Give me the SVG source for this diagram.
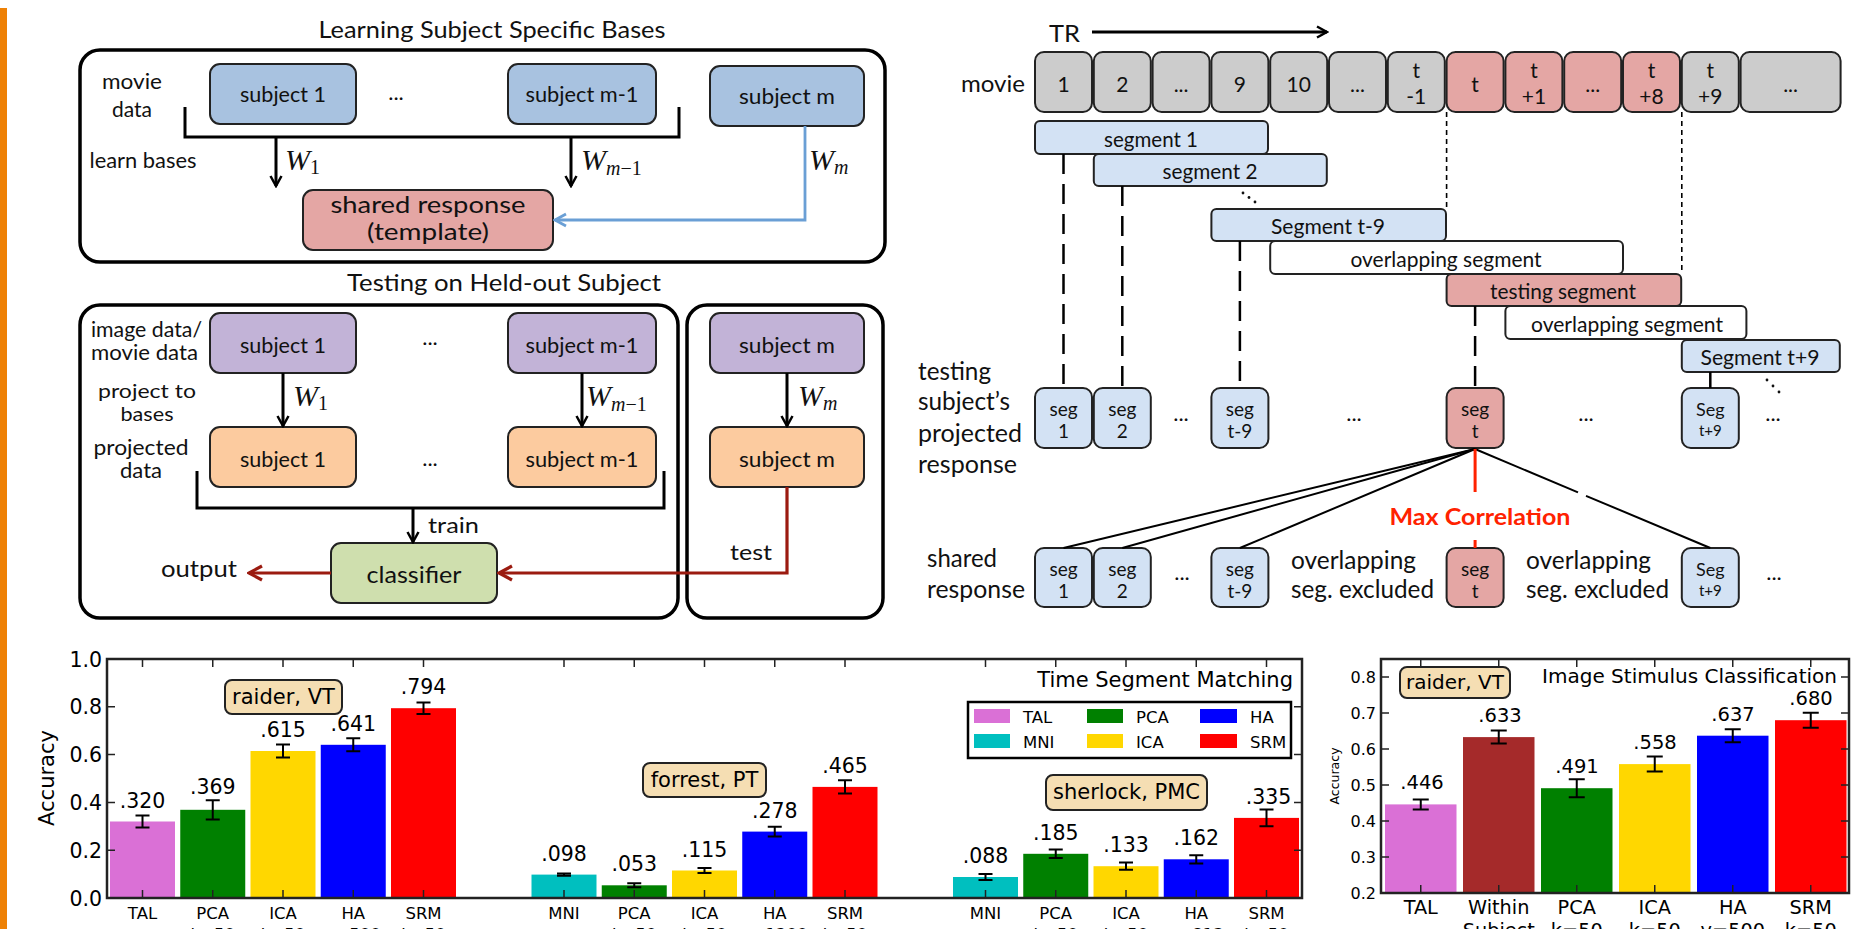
<svg xmlns="http://www.w3.org/2000/svg" width="1852" height="929" viewBox="0 0 1852 929">
<defs>
<style>
.lt{font-family:Lato,"Open Sans","Liberation Sans",sans-serif;fill:#111}
.dj{font-family:"DejaVu Sans","Liberation Sans",sans-serif;fill:#000}
.mt{font-family:"Liberation Serif","DejaVu Serif",serif;fill:#111}
.m{text-anchor:middle}
.e{text-anchor:end}
.frame{fill:#fff;stroke:#000;stroke-width:3.5}
.bx{stroke:#222;stroke-width:2}
.blue{fill:#a8c2e0}
.purp{fill:#c2b3d7}
.orng{fill:#fccb9f}
.grn{fill:#cfdfae}
.pink{fill:#e4a6a4}
.gray{fill:#cccccc}
.lb{fill:#d3e2f4}
.wht{fill:#fff}
.ln{stroke:#000;stroke-width:3;fill:none}
.ax{fill:none;stroke:#222;stroke-width:2.5}
.tk{stroke:#222;stroke-width:1.5}
.eb{stroke:#000;stroke-width:2;fill:none}
.badge{fill:#f5deb3;stroke:#222;stroke-width:2}
</style>
<marker id="ahk" viewBox="0 0 14 14" refX="12" refY="7" markerWidth="14" markerHeight="14" markerUnits="userSpaceOnUse" orient="auto"><path d="M2,1.5 L12,7 L2,12.5" fill="none" stroke="#000" stroke-width="2.5"/></marker>
<marker id="ahr" viewBox="0 0 18 18" refX="16" refY="9" markerWidth="18" markerHeight="18" markerUnits="userSpaceOnUse" orient="auto"><path d="M3,2 L16,9 L3,16" fill="none" stroke="#9b1b10" stroke-width="3.2"/></marker>
<marker id="ahb" viewBox="0 0 16 16" refX="14" refY="8" markerWidth="16" markerHeight="16" markerUnits="userSpaceOnUse" orient="auto"><path d="M3,2 L14,8 L3,14" fill="none" stroke="#6a9fd5" stroke-width="2.8"/></marker>
</defs>
<rect x="0" y="0" width="1852" height="929" fill="#fff"/>
<rect x="0" y="8" width="7" height="921" fill="#ee8105"/>

<!-- ===== Learning panel ===== -->
<g id="learning-panel">
<text class="lt m" x="492" y="38" font-size="24" textLength="347" lengthAdjust="spacingAndGlyphs">Learning Subject Specific Bases</text>
<rect class="frame" x="80" y="50" width="805" height="212" rx="20"/>
<text class="lt m" x="132" y="89" font-size="21" textLength="60" lengthAdjust="spacingAndGlyphs">movie</text>
<text class="lt m" x="132" y="117" font-size="21" textLength="40" lengthAdjust="spacingAndGlyphs">data</text>
<text class="lt m" x="143" y="168" font-size="21" textLength="107" lengthAdjust="spacingAndGlyphs">learn bases</text>
<text class="lt m" x="396" y="100" font-size="22">...</text>
</g>
<g id="learn-subject-1"><rect class="bx blue" x="210" y="64" width="146" height="60" rx="10"/><text class="lt m" x="283" y="102" font-size="21" textLength="86" lengthAdjust="spacingAndGlyphs">subject 1</text></g>
<g id="learn-subject-m-1"><rect class="bx blue" x="508" y="64" width="148" height="60" rx="10"/><text class="lt m" x="582" y="102" font-size="21" textLength="113" lengthAdjust="spacingAndGlyphs">subject m-1</text></g>
<g id="learn-subject-m"><rect class="bx blue" x="710" y="66" width="154" height="60" rx="10"/><text class="lt m" x="787" y="104" font-size="21" textLength="96" lengthAdjust="spacingAndGlyphs">subject m</text></g>
<g id="shared-response"><rect class="bx pink" x="303" y="190" width="250" height="60" rx="10"/><text class="lt m" x="428" y="213" font-size="24" textLength="195" lengthAdjust="spacingAndGlyphs">shared response</text><text class="lt m" x="428" y="240" font-size="24" textLength="122" lengthAdjust="spacingAndGlyphs">(template)</text></g>

<!-- ===== Testing panel ===== -->
<g id="testing-panel">
<text class="lt m" x="504" y="291" font-size="24" textLength="314" lengthAdjust="spacingAndGlyphs">Testing on Held-out Subject</text>
<rect class="frame" x="80" y="305" width="598" height="313" rx="20"/>
<rect class="frame" x="687" y="305" width="196" height="313" rx="20"/>
<text class="lt" x="91" y="337" font-size="21" textLength="111" lengthAdjust="spacingAndGlyphs">image data/</text>
<text class="lt" x="91" y="360" font-size="21" textLength="107" lengthAdjust="spacingAndGlyphs">movie data</text>
<text class="lt m" x="147" y="398" font-size="20" textLength="98" lengthAdjust="spacingAndGlyphs">project to</text>
<text class="lt m" x="147" y="421" font-size="20" textLength="53" lengthAdjust="spacingAndGlyphs">bases</text>
<text class="lt m" x="141" y="455" font-size="21" textLength="95" lengthAdjust="spacingAndGlyphs">projected</text>
<text class="lt m" x="141" y="478" font-size="21" textLength="42" lengthAdjust="spacingAndGlyphs">data</text>
<text class="lt m" x="430" y="345" font-size="22">...</text>
<text class="lt m" x="430" y="466" font-size="22">...</text>
<text class="lt" x="428" y="533" font-size="22" textLength="51" lengthAdjust="spacingAndGlyphs">train</text>
<text class="lt e" x="237" y="577" font-size="23" textLength="76" lengthAdjust="spacingAndGlyphs">output</text>
<text class="lt m" x="751" y="560" font-size="22" textLength="42" lengthAdjust="spacingAndGlyphs">test</text>
</g>
<g id="test-img-subject-1"><rect class="bx purp" x="210" y="313" width="146" height="60" rx="10"/><text class="lt m" x="283" y="353" font-size="21" textLength="86" lengthAdjust="spacingAndGlyphs">subject 1</text></g>
<g id="test-img-subject-m-1"><rect class="bx purp" x="508" y="313" width="148" height="60" rx="10"/><text class="lt m" x="582" y="353" font-size="21" textLength="113" lengthAdjust="spacingAndGlyphs">subject m-1</text></g>
<g id="test-img-subject-m"><rect class="bx purp" x="710" y="313" width="154" height="60" rx="10"/><text class="lt m" x="787" y="353" font-size="21" textLength="96" lengthAdjust="spacingAndGlyphs">subject m</text></g>
<g id="test-proj-subject-1"><rect class="bx orng" x="210" y="427" width="146" height="60" rx="10"/><text class="lt m" x="283" y="467" font-size="21" textLength="86" lengthAdjust="spacingAndGlyphs">subject 1</text></g>
<g id="test-proj-subject-m-1"><rect class="bx orng" x="508" y="427" width="148" height="60" rx="10"/><text class="lt m" x="582" y="467" font-size="21" textLength="113" lengthAdjust="spacingAndGlyphs">subject m-1</text></g>
<g id="test-proj-subject-m"><rect class="bx orng" x="710" y="427" width="154" height="60" rx="10"/><text class="lt m" x="787" y="467" font-size="21" textLength="96" lengthAdjust="spacingAndGlyphs">subject m</text></g>
<g id="classifier"><rect class="bx grn" x="331" y="543" width="166" height="60" rx="10"/><text class="lt m" x="414" y="583" font-size="24" textLength="95" lengthAdjust="spacingAndGlyphs">classifier</text></g>

<!-- ===== Time segment scheme ===== -->
<g id="movie-row">
<text class="lt" x="1049" y="42" font-size="24" textLength="31" lengthAdjust="spacingAndGlyphs">TR</text>
<text class="lt" x="961" y="92" font-size="24" textLength="64" lengthAdjust="spacingAndGlyphs">movie</text>
<rect class="bx gray" x="1035" y="52" width="57" height="60" rx="9"/>
<rect class="bx gray" x="1093.8" y="52" width="57" height="60" rx="9"/>
<rect class="bx gray" x="1152.6" y="52" width="57" height="60" rx="9"/>
<rect class="bx gray" x="1211.4" y="52" width="57" height="60" rx="9"/>
<rect class="bx gray" x="1270.2" y="52" width="57" height="60" rx="9"/>
<rect class="bx gray" x="1329" y="52" width="57" height="60" rx="9"/>
<rect class="bx gray" x="1387.8" y="52" width="57" height="60" rx="9"/>
<rect class="bx pink" x="1446.6" y="52" width="57" height="60" rx="9"/>
<rect class="bx pink" x="1505.4" y="52" width="57" height="60" rx="9"/>
<rect class="bx pink" x="1564.2" y="52" width="57" height="60" rx="9"/>
<rect class="bx pink" x="1623" y="52" width="57" height="60" rx="9"/>
<rect class="bx gray" x="1681.8" y="52" width="57" height="60" rx="9"/>
<rect class="bx gray" x="1740.6" y="52" width="100" height="60" rx="9"/>
<g class="lt m" font-size="21">
<text x="1063.5" y="92">1</text>
<text x="1122.3" y="92">2</text>
<text x="1181.1" y="92">...</text>
<text x="1239.9" y="92">9</text>
<text x="1298.7" y="92">10</text>
<text x="1357.5" y="92">...</text>
<text x="1416.3" y="78">t</text><text x="1416.3" y="104">-1</text>
<text x="1475.1" y="92">t</text>
<text x="1533.9" y="78">t</text><text x="1533.9" y="104">+1</text>
<text x="1592.7" y="92">...</text>
<text x="1651.5" y="78">t</text><text x="1651.5" y="104">+8</text>
<text x="1710.3" y="78">t</text><text x="1710.3" y="104">+9</text>
<text x="1790.6" y="92">...</text>
</g>
</g>
<g id="segment-1"><rect class="bx lb" x="1035" y="121" width="233" height="33" rx="5"/><text class="lt m" x="1151" y="147" font-size="21" textLength="94" lengthAdjust="spacingAndGlyphs">segment 1</text></g>
<g id="segment-2"><rect class="bx lb" x="1093.8" y="154" width="233" height="32" rx="5"/><text class="lt m" x="1210" y="179" font-size="21" textLength="95" lengthAdjust="spacingAndGlyphs">segment 2</text></g>
<g id="segment-t-9"><rect class="bx lb" x="1211.4" y="209" width="234.6" height="32" rx="5"/><text class="lt m" x="1328" y="234" font-size="21" textLength="114" lengthAdjust="spacingAndGlyphs">Segment t-9</text></g>
<g id="overlap-1"><rect class="bx wht" x="1270.2" y="241" width="352.8" height="33" rx="5"/><text class="lt m" x="1446" y="267" font-size="21" textLength="191" lengthAdjust="spacingAndGlyphs">overlapping segment</text></g>
<g id="testing-segment"><rect class="bx pink" x="1446.6" y="274" width="234.6" height="32" rx="5"/><text class="lt m" x="1563" y="299" font-size="21" textLength="146" lengthAdjust="spacingAndGlyphs">testing segment</text></g>
<g id="overlap-2"><rect class="bx wht" x="1505.4" y="306" width="241" height="33" rx="5"/><text class="lt m" x="1627" y="332" font-size="21" textLength="192" lengthAdjust="spacingAndGlyphs">overlapping segment</text></g>
<g id="segment-t+9"><rect class="bx lb" x="1681.8" y="340" width="158" height="32" rx="5"/><text class="lt m" x="1760" y="365" font-size="21" textLength="119" lengthAdjust="spacingAndGlyphs">Segment t+9</text></g>
<g id="ddots" fill="#111">
<circle cx="1243" cy="193" r="1.4"/><circle cx="1249" cy="197.5" r="1.4"/><circle cx="1255" cy="202" r="1.4"/>
<circle cx="1767" cy="380" r="1.4"/><circle cx="1773" cy="386" r="1.4"/><circle cx="1779" cy="392" r="1.4"/>
</g>
<g id="labels-right">
<text class="lt" x="918" y="380" font-size="25" textLength="73" lengthAdjust="spacingAndGlyphs">testing</text>
<text class="lt" x="918" y="410" font-size="25" textLength="92" lengthAdjust="spacingAndGlyphs">subject’s</text>
<text class="lt" x="918" y="442" font-size="25" textLength="104" lengthAdjust="spacingAndGlyphs">projected</text>
<text class="lt" x="918" y="473" font-size="25" textLength="99" lengthAdjust="spacingAndGlyphs">response</text>
<text class="lt" x="927" y="567" font-size="25" textLength="70" lengthAdjust="spacingAndGlyphs">shared</text>
<text class="lt" x="927" y="598" font-size="25" textLength="98" lengthAdjust="spacingAndGlyphs">response</text>
<text class="lt" x="1291" y="569" font-size="25" textLength="125" lengthAdjust="spacingAndGlyphs">overlapping</text>
<text class="lt" x="1291" y="598" font-size="25" textLength="143" lengthAdjust="spacingAndGlyphs">seg. excluded</text>
<text class="lt" x="1526" y="569" font-size="25" textLength="125" lengthAdjust="spacingAndGlyphs">overlapping</text>
<text class="lt" x="1526" y="598" font-size="25" textLength="143" lengthAdjust="spacingAndGlyphs">seg. excluded</text>
<text class="lt m" x="1480" y="525" font-size="23" font-weight="bold" fill="#ff2200" style="fill:#ff2200" textLength="181" lengthAdjust="spacingAndGlyphs">Max Correlation</text>
<g class="lt m" font-size="22">
<text x="1181" y="421">...</text><text x="1354" y="421">...</text><text x="1586" y="421">...</text><text x="1773" y="421">...</text>
<text x="1182" y="580">...</text><text x="1774" y="580">...</text>
</g>
</g>
<g id="proj-seg-1"><rect class="bx lb" x="1035" y="388" width="57" height="60" rx="9"/><text class="lt m" x="1063.5" y="416" font-size="19">seg</text><text class="lt m" x="1063.5" y="438" font-size="19">1</text></g>
<g id="proj-seg-2"><rect class="bx lb" x="1093.8" y="388" width="57" height="60" rx="9"/><text class="lt m" x="1122.3" y="416" font-size="19">seg</text><text class="lt m" x="1122.3" y="438" font-size="19">2</text></g>
<g id="proj-seg-t-9"><rect class="bx lb" x="1211.4" y="388" width="57" height="60" rx="9"/><text class="lt m" x="1239.9" y="416" font-size="19">seg</text><text class="lt m" x="1239.9" y="438" font-size="19">t-9</text></g>
<g id="proj-seg-t"><rect class="bx pink" x="1446.6" y="388" width="57" height="60" rx="9"/><text class="lt m" x="1475.1" y="416" font-size="19">seg</text><text class="lt m" x="1475.1" y="438" font-size="19">t</text></g>
<g id="proj-seg-t+9"><rect class="bx lb" x="1681.8" y="388" width="57" height="60" rx="9"/><text class="lt m" x="1710.3" y="416" font-size="18">Seg</text><text class="lt m" x="1710.3" y="436" font-size="15">t+9</text></g>
<g id="shared-seg-1"><rect class="bx lb" x="1035" y="548" width="57" height="59" rx="9"/><text class="lt m" x="1063.5" y="576" font-size="19">seg</text><text class="lt m" x="1063.5" y="598" font-size="19">1</text></g>
<g id="shared-seg-2"><rect class="bx lb" x="1093.8" y="548" width="57" height="59" rx="9"/><text class="lt m" x="1122.3" y="576" font-size="19">seg</text><text class="lt m" x="1122.3" y="598" font-size="19">2</text></g>
<g id="shared-seg-t-9"><rect class="bx lb" x="1211.4" y="548" width="57" height="59" rx="9"/><text class="lt m" x="1239.9" y="576" font-size="19">seg</text><text class="lt m" x="1239.9" y="598" font-size="19">t-9</text></g>
<g id="shared-seg-t"><rect class="bx pink" x="1446.6" y="548" width="57" height="59" rx="9"/><text class="lt m" x="1475.1" y="576" font-size="19">seg</text><text class="lt m" x="1475.1" y="598" font-size="19">t</text></g>
<g id="shared-seg-t+9"><rect class="bx lb" x="1681.8" y="548" width="57" height="59" rx="9"/><text class="lt m" x="1710.3" y="576" font-size="18">Seg</text><text class="lt m" x="1710.3" y="596" font-size="15">t+9</text></g>

<!-- ===== connectors ===== -->
<g id="connectors">
<path class="ln" d="M185,107 V137 H679 V107"/>
<path class="ln" d="M276,137 V186" marker-end="url(#ahk)"/>
<path class="ln" d="M571,137 V186" marker-end="url(#ahk)"/>
<path d="M805,126 V220 H555" fill="none" stroke="#6a9fd5" stroke-width="2.8" marker-end="url(#ahb)"/>
<path class="ln" d="M283,373 V426" marker-end="url(#ahk)"/>
<path class="ln" d="M582,373 V426" marker-end="url(#ahk)"/>
<path class="ln" d="M787,373 V426" marker-end="url(#ahk)"/>
<path class="ln" d="M197,471 V508 H664 V471"/>
<path class="ln" d="M413,508 V542" marker-end="url(#ahk)"/>
<path d="M331,573 H249" fill="none" stroke="#9b1b10" stroke-width="3.2" marker-end="url(#ahr)"/>
<path d="M787,487 V573 H499" fill="none" stroke="#9b1b10" stroke-width="3.2" marker-end="url(#ahr)"/>
<path d="M1092,32 H1327" fill="none" stroke="#000" stroke-width="3" marker-end="url(#ahk)"/>
<g stroke="#000" stroke-width="1.6" stroke-dasharray="5 4" fill="none">
<path d="M1446.6,112 V209"/><path d="M1681.8,112 V274"/>
</g>
<g stroke="#000" stroke-width="2.5" stroke-dasharray="20 10" fill="none">
<path d="M1063.5,154 V388"/><path d="M1122.3,186 V388"/><path d="M1239.9,241 V388"/><path d="M1475.1,306 V388"/>
</g>
<path d="M1710.3,372 V388" stroke="#000" stroke-width="2.5"/>
<g stroke="#000" stroke-width="2" fill="none">
<path d="M1475,449 L1063.5,548"/><path d="M1475,449 L1122.3,548"/><path d="M1475,449 L1239.9,548"/>
<path d="M1475,449 L1578,492.4"/><path d="M1586,495.8 L1710.3,548"/>
</g>
<path d="M1475.1,449 V492 M1475.1,540 V548" stroke="#ff2200" stroke-width="3"/>
</g>

<!-- math labels -->
<g id="math-labels" class="mt" font-size="30">
<text x="285" y="170"><tspan font-style="italic">W</tspan><tspan font-size="20" dy="4">1</tspan></text>
<text x="581" y="170"><tspan font-style="italic">W</tspan><tspan font-size="20" dy="5" font-style="italic">m</tspan><tspan font-size="20">−1</tspan></text>
<text x="809" y="170"><tspan font-style="italic">W</tspan><tspan font-size="20" dy="4" font-style="italic">m</tspan></text>
<text x="293" y="406"><tspan font-style="italic">W</tspan><tspan font-size="20" dy="4">1</tspan></text>
<text x="586" y="406"><tspan font-style="italic">W</tspan><tspan font-size="20" dy="5" font-style="italic">m</tspan><tspan font-size="20">−1</tspan></text>
<text x="798" y="406"><tspan font-style="italic">W</tspan><tspan font-size="20" dy="4" font-style="italic">m</tspan></text>
</g>

<!-- ===== Chart 1: Time Segment Matching ===== -->
<g id="chart-time-segment">
<g id="bars1">
<rect x="110" y="821.5" width="65" height="76.5" fill="#da70d6"/>
<rect x="180.25" y="809.8" width="65" height="88.2" fill="#008000"/>
<rect x="250.5" y="751" width="65" height="147" fill="#ffd700"/>
<rect x="320.75" y="744.8" width="65" height="153.2" fill="#0000ff"/>
<rect x="391" y="708.2" width="65" height="189.8" fill="#ff0000"/>
<rect x="531.5" y="874.6" width="65" height="23.4" fill="#00bfbf"/>
<rect x="601.75" y="885.3" width="65" height="12.7" fill="#008000"/>
<rect x="672" y="870.5" width="65" height="27.5" fill="#ffd700"/>
<rect x="742.25" y="831.6" width="65" height="66.4" fill="#0000ff"/>
<rect x="812.5" y="786.9" width="65" height="111.1" fill="#ff0000"/>
<rect x="953" y="877" width="65" height="21" fill="#00bfbf"/>
<rect x="1023.25" y="853.8" width="65" height="44.2" fill="#008000"/>
<rect x="1093.5" y="866.2" width="65" height="31.8" fill="#ffd700"/>
<rect x="1163.75" y="859.3" width="65" height="38.7" fill="#0000ff"/>
<rect x="1234" y="817.9" width="65" height="80.1" fill="#ff0000"/>
</g>
<path class="eb" d="M142.5,815.5V827.5M135.5,815.5H149.5M135.5,827.5H149.5
M212.75,800.2V819.4M205.75,800.2H219.75M205.75,819.4H219.75
M283,744.6V757.5M276,744.6H290M276,757.5H290
M353.25,738.3V751.3M346.25,738.3H360.25M346.25,751.3H360.25
M423.5,702.5V713.9M416.5,702.5H430.5M416.5,713.9H430.5
M564,873.4V875.8M557,873.4H571M557,875.8H571
M634.25,883.3V887.3M627.25,883.3H641.25M627.25,887.3H641.25
M704.5,867.9V873.1M697.5,867.9H711.5M697.5,873.1H711.5
M774.75,826.8V836.4M767.75,826.8H781.75M767.75,836.4H781.75
M845,780.2V793.6M838,780.2H852M838,793.6H852
M985.5,873.9V880.1M978.5,873.9H992.5M978.5,880.1H992.5
M1055.75,849.5V858.1M1048.75,849.5H1062.75M1048.75,858.1H1062.75
M1126,862.6V869.8M1119,862.6H1133M1119,869.8H1133
M1196.25,855.2V863.4M1189.25,855.2H1203.25M1189.25,863.4H1203.25
M1266.5,809.6V826.3M1259.5,809.6H1273.5M1259.5,826.3H1273.5"/>
<g class="dj m" font-size="20.5">
<text x="142.5" y="808">.320</text><text x="212.75" y="794">.369</text><text x="283" y="737">.615</text><text x="353.25" y="731">.641</text><text x="423.5" y="694">.794</text>
<text x="564" y="861">.098</text><text x="634.25" y="871">.053</text><text x="704.5" y="857">.115</text><text x="774.75" y="818">.278</text><text x="845" y="773">.465</text>
<text x="985.5" y="863">.088</text><text x="1055.75" y="840">.185</text><text x="1126" y="852">.133</text><text x="1196.25" y="845">.162</text><text x="1268.5" y="804">.335</text>
</g>
<rect class="ax" x="107" y="659" width="1195" height="239"/>
<path class="tk" d="M107,898h8M107,850.2h8M107,802.4h8M107,754.6h8M107,706.8h8M107,659h8
M1302,850.2h-8M1302,802.4h-8M1302,754.6h-8M1302,706.8h-8
M142.5,898v-8M212.75,898v-8M283,898v-8M353.25,898v-8M423.5,898v-8M564,898v-8M634.25,898v-8M704.5,898v-8M774.75,898v-8M845,898v-8M985.5,898v-8M1055.75,898v-8M1126,898v-8M1196.25,898v-8M1266.5,898v-8
M142.5,659v8M212.75,659v8M283,659v8M353.25,659v8M423.5,659v8M564,659v8M634.25,659v8M704.5,659v8M774.75,659v8M845,659v8M985.5,659v8M1055.75,659v8M1126,659v8M1196.25,659v8M1266.5,659v8"/>
<g class="dj e" font-size="20.5">
<text x="102" y="905.5">0.0</text><text x="102" y="857.7">0.2</text><text x="102" y="809.9">0.4</text><text x="102" y="762.1">0.6</text><text x="102" y="714.3">0.8</text><text x="102" y="666.5">1.0</text>
</g>
<text class="dj m" font-size="21" transform="translate(53.5,778) rotate(-90)">Accuracy</text>
<g class="dj m" font-size="16.5">
<text x="142.5" y="919">TAL</text><text x="212.75" y="919">PCA</text><text x="283" y="919">ICA</text><text x="353.25" y="919">HA</text><text x="423.5" y="919">SRM</text>
<text x="564" y="919">MNI</text><text x="634.25" y="919">PCA</text><text x="704.5" y="919">ICA</text><text x="774.75" y="919">HA</text><text x="845" y="919">SRM</text>
<text x="985.5" y="919">MNI</text><text x="1055.75" y="919">PCA</text><text x="1126" y="919">ICA</text><text x="1196.25" y="919">HA</text><text x="1266.5" y="919">SRM</text>
<text x="212.75" y="940">k=50</text><text x="283" y="940">k=50</text><text x="353.25" y="940">v=500</text><text x="423.5" y="940">k=50</text>
<text x="634.25" y="940">k=50</text><text x="704.5" y="940">k=50</text><text x="774.75" y="940">v=1200</text><text x="845" y="940">k=50</text>
<text x="1055.75" y="940">k=50</text><text x="1126" y="940">k=50</text><text x="1196.25" y="940">v=813</text><text x="1266.5" y="940">k=50</text>
</g>
<text class="dj e" x="1293" y="687" font-size="21">Time Segment Matching</text>
<g id="badge-raider"><rect class="badge" x="225" y="680" width="117" height="34" rx="7"/><text class="dj m" x="283.5" y="704" font-size="21">raider, VT</text></g>
<g id="badge-forrest"><rect class="badge" x="643" y="763" width="123" height="34" rx="7"/><text class="dj m" x="704.5" y="787" font-size="21">forrest, PT</text></g>
<g id="badge-sherlock"><rect class="badge" x="1046" y="775" width="161" height="35" rx="7"/><text class="dj m" x="1126.5" y="799" font-size="21">sherlock, PMC</text></g>
<g id="legend">
<rect x="968" y="702" width="323" height="56" fill="#fff" stroke="#000" stroke-width="2.5"/>
<rect x="974" y="709" width="36" height="14" fill="#da70d6"/><rect x="974" y="734" width="36" height="14" fill="#00bfbf"/>
<rect x="1087" y="709" width="36" height="14" fill="#008000"/><rect x="1087" y="734" width="36" height="14" fill="#ffd700"/>
<rect x="1200" y="709" width="37" height="14" fill="#0000ff"/><rect x="1200" y="734" width="37" height="14" fill="#ff0000"/>
<g class="dj" font-size="16.5">
<text x="1023" y="723">TAL</text><text x="1023" y="748">MNI</text><text x="1136" y="723">PCA</text><text x="1136" y="748">ICA</text><text x="1250" y="723">HA</text><text x="1250" y="748">SRM</text>
</g>
</g>
</g>

<!-- ===== Chart 2: Image Stimulus Classification ===== -->
<g id="chart-image-stimulus">
<rect x="1385" y="804.4" width="71.5" height="88.6" fill="#da70d6"/>
<rect x="1463" y="737.1" width="71.5" height="155.9" fill="#a52a2a"/>
<rect x="1541" y="788.2" width="71.5" height="104.8" fill="#008000"/>
<rect x="1619" y="764.1" width="71.5" height="128.9" fill="#ffd700"/>
<rect x="1697" y="735.7" width="71.5" height="157.3" fill="#0000ff"/>
<rect x="1775" y="720.2" width="71.5" height="172.8" fill="#ff0000"/>
<path class="eb" d="M1420.75,799.4V809.4M1412.75,799.4H1428.75M1412.75,809.4H1428.75
M1498.75,730.6V743.6M1490.75,730.6H1506.75M1490.75,743.6H1506.75
M1576.75,779.2V797.2M1568.75,779.2H1584.75M1568.75,797.2H1584.75
M1654.75,756.6V771.6M1646.75,756.6H1662.75M1646.75,771.6H1662.75
M1732.75,729.2V742.2M1724.75,729.2H1740.75M1724.75,742.2H1740.75
M1810.75,712.7V727.7M1802.75,712.7H1818.75M1802.75,727.7H1818.75"/>
<g class="dj m" font-size="19.5">
<text x="1422" y="789">.446</text><text x="1500" y="722">.633</text><text x="1577" y="773">.491</text><text x="1655" y="749">.558</text><text x="1733" y="720.5">.637</text><text x="1811" y="705">.680</text>
</g>
<rect class="ax" x="1381" y="659" width="468" height="234"/>
<path class="tk" d="M1381,857h8M1381,821h8M1381,785h8M1381,749h8M1381,713h8M1381,677h8
M1849,857h-8M1849,821h-8M1849,785h-8M1849,749h-8M1849,713h-8M1849,677h-8
M1420.75,893v-8M1498.75,893v-8M1576.75,893v-8M1654.75,893v-8M1732.75,893v-8M1810.75,893v-8
M1420.75,659v8M1498.75,659v8M1576.75,659v8M1654.75,659v8M1732.75,659v8M1810.75,659v8"/>
<g class="dj e" font-size="16">
<text x="1376" y="899">0.2</text><text x="1376" y="863">0.3</text><text x="1376" y="827">0.4</text><text x="1376" y="791">0.5</text><text x="1376" y="755">0.6</text><text x="1376" y="719">0.7</text><text x="1376" y="683">0.8</text>
</g>
<text class="dj m" font-size="12.5" transform="translate(1339,776) rotate(-90)">Accuracy</text>
<g class="dj m" font-size="19.3">
<text x="1420.75" y="914">TAL</text><text x="1498.75" y="914">Within</text><text x="1576.75" y="914">PCA</text><text x="1654.75" y="914">ICA</text><text x="1732.75" y="914">HA</text><text x="1810.75" y="914">SRM</text>
<text x="1498.75" y="937">Subject</text><text x="1576.75" y="937">k=50</text><text x="1654.75" y="937">k=50</text><text x="1732.75" y="937">v=500</text><text x="1810.75" y="937">k=50</text>
</g>
<text class="dj" x="1542" y="683" font-size="19.5" textLength="295" lengthAdjust="spacingAndGlyphs">Image Stimulus Classification</text>
<g id="badge-raider-2"><rect class="badge" x="1400" y="667" width="110" height="31" rx="7"/><text class="dj m" x="1455" y="689" font-size="20">raider, VT</text></g>
</g>
</svg>
